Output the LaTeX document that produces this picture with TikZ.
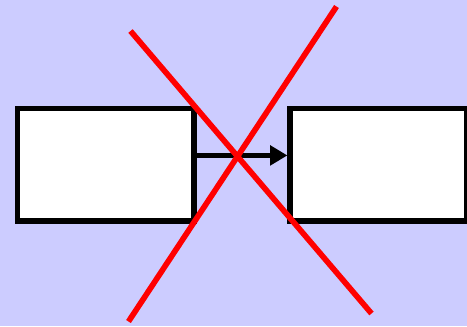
\documentclass[tikz,border=0pt]{standalone}
\usetikzlibrary{arrows.meta}

\definecolor{bgblue}{RGB}{204,204,255}

\begin{document}
\begin{tikzpicture}[
                    x=0.03cm, y=-0.03cm,
                    box/.style={draw=black, fill=white, line width=0.155cm, rectangle, inner sep=0pt, minimum width=5.295cm, minimum height=3.375cm},
                    link/.style={draw=black, line width=0.14cm, -{Triangle[length=0.52cm, width=0.58cm]}},
                    cross/.style={draw=red, line width=0.17cm}
                ]

                % Fond
                \fill[bgblue] (0,0) rectangle (467,326);
                \useasboundingbox (0,0) rectangle (467,326);

                % Les deux blocs
                \node[box] (left) at (105.75,164.75) {};
                \node[box] (right) at (378.25,164.75) {};

                % Liaison
                \draw[link] ([yshift=0.28cm]left.east) -- ([yshift=0.28cm]right.west);

                % Croix
                \coordinate (c1) at (130.5,31);
                \coordinate (c2) at (371.5,313.5);
                \coordinate (c3) at (336.5,6.5);
                \coordinate (c4) at (128.5,321.5);
                \draw[cross] (c1) -- (c2);
                \draw[cross] (c3) -- (c4);

                \end{tikzpicture}
\end{document}
